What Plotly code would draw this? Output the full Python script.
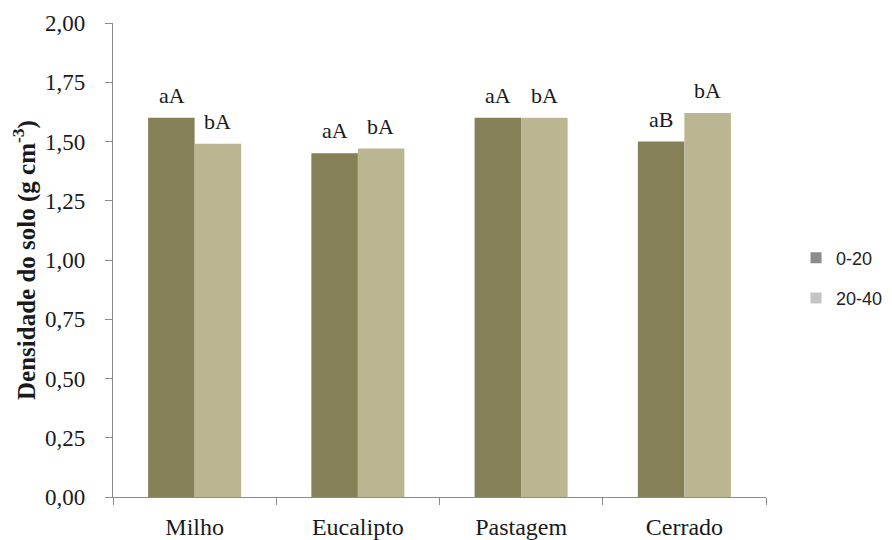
import plotly.graph_objects as go

categories = ["Milho", "Eucalipto", "Pastagem", "Cerrado"]
depth_0_20 = [1.60, 1.45, 1.60, 1.50]
depth_20_40 = [1.49, 1.47, 1.60, 1.62]
labels_0_20 = ["aA", "aA", "aA", "aB"]
labels_20_40 = ["bA", "bA", "bA", "bA"]
series_names = ["0-20", "20-40"]
y_ticks = [0, 0.25, 0.5, 0.75, 1.0, 1.25, 1.5, 1.75, 2.0]

bar_colors = ["#858057", "#b9b691"]
legend_colors = ["#8c8c8c", "#c4c4c4"]
serif = "Liberation Serif"

fig = go.Figure()
for vals, col in zip([depth_0_20, depth_20_40], bar_colors):
    fig.add_trace(go.Bar(x=categories, y=vals, marker=dict(color=col, line=dict(width=0)),
                         showlegend=False))
for i, (name, col) in enumerate(zip(series_names, legend_colors)):
    fig.add_trace(go.Scatter(x=[None], y=[None], mode="markers", name=name,
                             legendgroup=name,
                             marker=dict(symbol="square", size=11, color=col)))

annotations = []
for cat, v1, v2, l1, l2 in zip(categories, depth_0_20, depth_20_40, labels_0_20, labels_20_40):
    for v, l, shift in [(v1, l1, -23), (v2, l2, 23)]:
        annotations.append(dict(x=cat, y=v, xref="x", yref="y", text=l, showarrow=False,
                                xshift=shift, yshift=8, yanchor="bottom",
                                font=dict(family=serif, size=22, color="#1a1a1a")))

fig.update_layout(
    width=892, height=540,
    margin=dict(l=105, r=131, t=15, b=51),
    paper_bgcolor="white", plot_bgcolor="white",
    separators=", ",
    barmode="group", bargap=0.43, bargroupgap=0,
    annotations=annotations,
    showlegend=True,
    legend=dict(x=1.046, y=0.462, yanchor="middle", xanchor="left",
                font=dict(family="Liberation Sans", size=18, color="#222222"),
                tracegroupgap=14, traceorder="grouped", bgcolor="rgba(0,0,0,0)"),
    font=dict(family=serif, color="#1a1a1a"),
)
fig.update_yaxes(range=[0, 2], tickvals=y_ticks, tickformat=".2f", automargin=False,
                 showline=True, linecolor="#8c8c8c", linewidth=1.3,
                 ticks="outside", ticklen=7, tickcolor="#8c8c8c", ticklabelstandoff=15,
                 showgrid=False, zeroline=False,
                 tickfont=dict(family=serif, size=23, color="#1a1a1a"),
                 title=dict(text="<b>Densidade do solo (g cm<sup>-3</sup>)</b>", standoff=4,
                            font=dict(family=serif, size=25, color="#1a1a1a")))
fig.update_xaxes(automargin=False, showline=True, linecolor="#8c8c8c", linewidth=1.3,
                 ticks="outside", ticklen=7, tickcolor="#8c8c8c", tickson="boundaries",
                 showgrid=False, ticklabelstandoff=8,
                 tickfont=dict(family=serif, size=24, color="#1a1a1a"))

fig.write_html("out.html")
